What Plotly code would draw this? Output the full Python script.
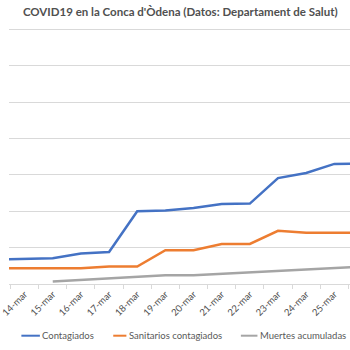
import plotly.graph_objects as go

fechas = ["13-mar", "14-mar", "15-mar", "16-mar", "17-mar", "18-mar", "19-mar",
          "20-mar", "21-mar", "22-mar", "23-mar", "24-mar", "25-mar", "26-mar"]
contagiados = [67, 69, 71, 84, 88, 200, 202, 209, 220, 221, 291, 305, 330, 331]
sanitarios = [43, 43, 43, 43, 48, 48, 93, 93, 110, 110, 146, 141, 141, 141]
muertes = [None, None, 7, 11, 14, 20, 24, 24, 28, 31, 35, 41, 43, 48]

series = [("Contagiados", contagiados, "#4472C4"),
          ("Sanitarios contagiados", sanitarios, "#ED7D31"),
          ("Muertes acumuladas", muertes, "#A5A5A5")]

W, H = 350, 350
T, B = 28, 66
plot_h = H - T - B

fig = go.Figure()
for name, vals, col in series:
    fig.add_trace(go.Scatter(x=fechas, y=vals, name=name, mode="lines",
                             line=dict(color=col, width=2.5), showlegend=False))

# legend drawn as line samples + text (Excel-style compact legend)
leg_y_px = 335.7
leg_y = (H - B - leg_y_px) / plot_h
leg_items = [(12.7, 31.7), (107, 120.5), (238, 255)]
for (name, vals, col), (x0, x1) in zip(series, leg_items):
    fig.add_shape(type="line", xref="paper", yref="paper",
                  x0=x0 / W, x1=x1 / W, y0=leg_y, y1=leg_y,
                  line=dict(color=col, width=2))
    fig.add_annotation(text=name, xref="paper", yref="paper", x=(x1 + 0.5) / W, y=leg_y,
                       xanchor="left", yanchor="middle", showarrow=False,
                       font=dict(family="Lato", size=9.5, color="#595959"))

fig.update_layout(
    width=W, height=H,
    margin=dict(l=0, r=0, t=T, b=B),
    paper_bgcolor="white", plot_bgcolor="white",
    title=dict(text="<b>COVID19 en la Conca d'Òdena (Datos: Departament de Salut)</b>",
               x=0.515, xanchor="center", y=0.965, yanchor="middle",
               font=dict(family="Lato", size=11.5, color="#505050")),
    font=dict(family="Lato", color="#595959"),
    xaxis=dict(type="category", range=[0.446, 12.557], showgrid=False,
               showline=True, linecolor="#d9d9d9", linewidth=1,
               ticks="outside", tickson="boundaries", ticklen=4, tickcolor="#d9d9d9",
               tickangle=-45, tickfont=dict(size=9.5, color="#505050")),
    yaxis=dict(range=[0, 703.3], dtick=100, showgrid=True, gridcolor="#d9d9d9",
               gridwidth=1, showticklabels=False, zeroline=False, showline=False),
    showlegend=False,
)

fig.write_html("out.html")
